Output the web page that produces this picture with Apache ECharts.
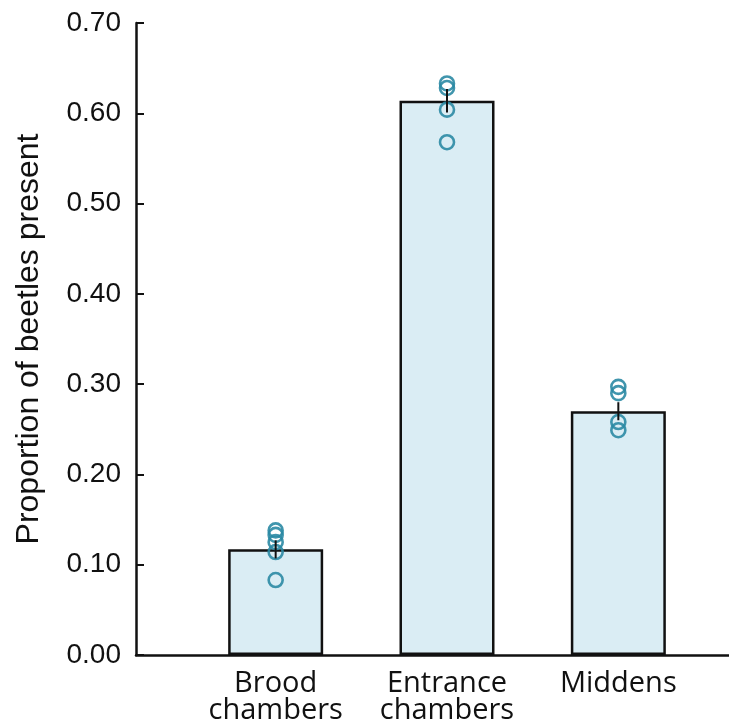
<!DOCTYPE html>
<html>
<head>
<meta charset="utf-8">
<script src="https://cdn.jsdelivr.net/npm/echarts@6/dist/echarts.min.js"></script>
<style>html,body{margin:0;padding:0;background:#fff;}#c{width:729px;height:728px;}</style>
</head>
<body>
<div id="c"></div>
<script>
var categories = ['Brood\nchambers', 'Entrance\nchambers', 'Middens'];
var means = [0.117, 0.614, 0.270];
var se = [0.010, 0.013, 0.010];
var broodPoints = [0.138, 0.133, 0.125, 0.114, 0.083];
var entrancePoints = [0.633, 0.628, 0.604, 0.568];
var middenPoints = [0.297, 0.290, 0.258, 0.249];
var yTicks = [0, 0.1, 0.2, 0.3, 0.4, 0.5, 0.6, 0.7];

var pointGroups = [broodPoints, entrancePoints, middenPoints];
var scatterData = [];
pointGroups.forEach(function (g, i) { g.forEach(function (v) { scatterData.push([i, v]); }); });
var errData = means.map(function (m, i) { return [i, m - se[i], m + se[i]]; });

var chart = echarts.init(document.getElementById('c'));
var yMin = yTicks[0], yMax = yTicks[yTicks.length - 1], yStep = yTicks[1] - yTicks[0];
chart.setOption({
  animation: false,
  grid: [
    { left: 136, right: 0, top: 23, bottom: 73 },
    { left: 190, right: 25, top: 23, bottom: 73 }
  ],
  xAxis: [
    { gridIndex: 0, type: 'value', min: 0, max: 1,
      axisLine: { show: true, lineStyle: { color: '#111', width: 2.5 } },
      axisTick: { show: false }, axisLabel: { show: false }, splitLine: { show: false } },
    { gridIndex: 1, type: 'category', data: categories,
      axisLine: { show: false },
      axisTick: { show: true, inside: true, alignWithLabel: true, length: 6, lineStyle: { color: '#111', width: 2 } },
      axisLabel: { color: '#111', fontFamily: 'Open Sans', fontSize: 29, lineHeight: 27, margin: 15, interval: 0 },
      splitLine: { show: false } }
  ],
  yAxis: [
    { gridIndex: 0, type: 'value', min: yMin, max: yMax, interval: yStep,
      name: 'Proportion of beetles present', nameLocation: 'middle', nameGap: 91, nameRotate: 90,
      nameTextStyle: { color: '#111', fontFamily: 'Liberation Sans', fontSize: 32 },
      axisLine: { show: true, lineStyle: { color: '#111', width: 2.5 } },
      axisTick: { show: true, inside: true, length: 8, lineStyle: { color: '#111', width: 2 } },
      axisLabel: { color: '#111', fontFamily: 'Liberation Sans', fontSize: 28, margin: 15,
        formatter: function (v) { return v.toFixed(2); } },
      splitLine: { show: false } },
    { gridIndex: 1, type: 'value', min: yMin, max: yMax, interval: yStep, show: false }
  ],
  series: [
    { type: 'bar', xAxisIndex: 1, yAxisIndex: 1, data: means, barWidth: 95, z: 2,
      itemStyle: { color: '#daedf4', borderColor: '#111', borderWidth: 2.5 } },
    { type: 'scatter', xAxisIndex: 1, yAxisIndex: 1, data: scatterData, symbol: 'circle', symbolSize: 14, z: 3,
      itemStyle: { color: 'rgba(0,0,0,0)', borderColor: '#2b8aa4', borderWidth: 2.6, opacity: 0.9 } },
    { type: 'custom', xAxisIndex: 1, yAxisIndex: 1, data: errData, z: 4,
      renderItem: function (params, api) {
        var p1 = api.coord([api.value(0), api.value(1)]);
        var p2 = api.coord([api.value(0), api.value(2)]);
        return { type: 'line', shape: { x1: p1[0], y1: p1[1], x2: p2[0], y2: p2[1] },
          style: { stroke: '#111', lineWidth: 2 } };
      } }
  ]
});
</script>
</body>
</html>
